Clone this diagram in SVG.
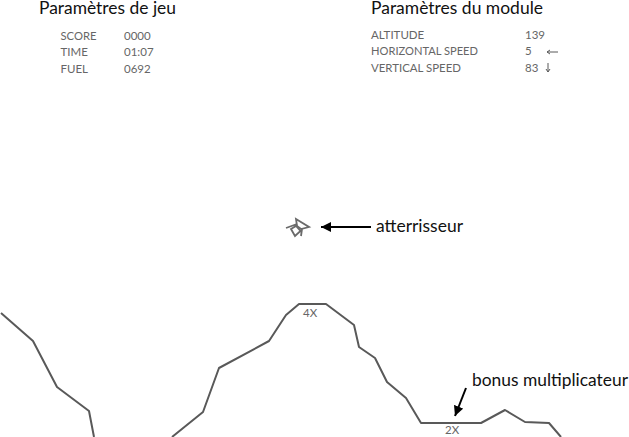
<svg xmlns="http://www.w3.org/2000/svg" width="629" height="437" viewBox="0 0 629 437">
<style>
text{font-family:Lato,"Open Sans","Liberation Sans",sans-serif}
.h{font-size:17.500px;fill:#111}
.s{font-size:11.500px;fill:#666}
.c{font-size:17px;fill:#111}
.t{fill:none;stroke:#595959;stroke-width:2;stroke-linejoin:round}
.a{fill:none;stroke:#000;stroke-width:2}
</style>
<defs>
<marker id="ah" markerUnits="userSpaceOnUse" markerWidth="11" markerHeight="10" refX="10" refY="5" orient="auto"><path d="M0 0L10 5L0 10Z" fill="#000"/></marker>
</defs>
<g id="panel-jeu">
<text class="h" x="39" y="14" textLength="137" lengthAdjust="spacingAndGlyphs">Paramètres de jeu</text>
<text class="s" x="60.500" y="40" textLength="36" lengthAdjust="spacingAndGlyphs">SCORE</text><text class="s" x="124" y="40">0000</text>
<text class="s" x="60.500" y="56">TIME</text><text class="s" x="124" y="56">01:07</text>
<text class="s" x="60.500" y="73">FUEL</text><text class="s" x="124" y="73">0692</text>
</g>
<g id="panel-module">
<text class="h" x="371" y="14" textLength="172" lengthAdjust="spacingAndGlyphs">Paramètres du module</text>
<text class="s" x="371" y="39">ALTITUDE</text><text class="s" x="525" y="39">139</text>
<text class="s" x="371" y="55" textLength="107" lengthAdjust="spacingAndGlyphs">HORIZONTAL SPEED</text><text class="s" x="525" y="55">5</text>
<text class="s" x="371" y="72" textLength="90" lengthAdjust="spacingAndGlyphs">VERTICAL SPEED</text><text class="s" x="525" y="72">83</text>
</g>
<g id="terrain">
<polyline class="t" points="1,313 33,341 57,387 89,411 94,437"/>
<polyline class="t" points="172,437 203,412 219,368 269,341 286,315 299,304 326,304 354,325 359,347 375,358 387,382 406,398 421,423 481,423 505,410 525,422 549,423 561,437"/>
<text class="s" x="303" y="317">4X</text>
<text class="s" x="445" y="434">2X</text>
</g>
<g id="lander" fill="none" stroke="#6a6a6a" stroke-width="1.800">
<path d="M296 219L309 227L301 229L297 226Z"/>
<path d="M286 228L297 224M291 229L296 226L300.500 231L295 236ZM301 236L302 229"/>
</g>
<g id="connectors">
<path class="a" d="M371 227H321" marker-end="url(#ah)"/>
<path class="a" d="M466 388L455 416" marker-end="url(#ah)"/>
<path d="M558 52H547M547 52L550 50M547 52L550 54" fill="none" stroke="#595959"/>
<path d="M548 63V72M548 72L546 69M548 72L550 69" fill="none" stroke="#595959"/>
</g>
<g id="labels">
<text class="c" x="376" y="232" textLength="87" lengthAdjust="spacingAndGlyphs">atterrisseur</text>
<text class="c" x="472" y="386" textLength="156" lengthAdjust="spacingAndGlyphs">bonus multiplicateur</text>
</g>
</svg>
